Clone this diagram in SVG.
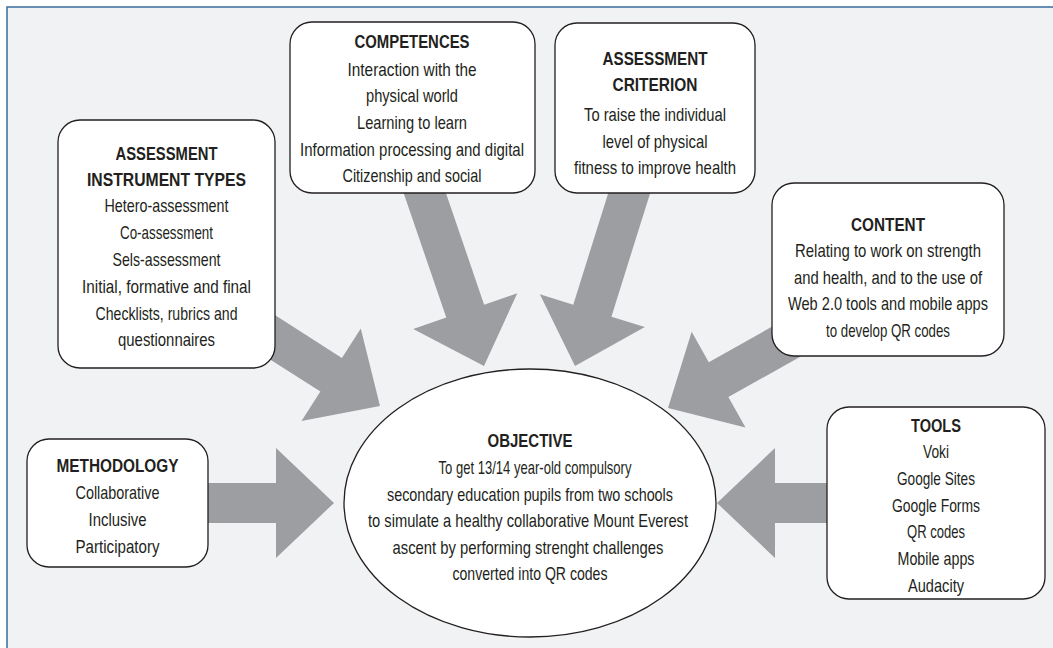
<svg xmlns="http://www.w3.org/2000/svg" width="1053" height="648" viewBox="0 0 1053 648">
<style>
.box{fill:#ffffff;stroke:#231f20;stroke-width:1.3}
.arr{fill:#9d9ea1}
text{font-family:"Liberation Sans Narrow","Liberation Sans",Arial,sans-serif;font-size:19px;fill:#231f20;text-anchor:middle}
.t{font-weight:bold}
</style>
<rect x="0" y="0" width="1053" height="648" fill="#ffffff"/>
<rect x="7" y="7" width="1046" height="641" fill="#f1f2f4"/>
<path d="M7,648 V7 H1053" fill="none" stroke="#3a6b9c" stroke-width="1.5"/>
<g id="connectors">
<polygon class="arr" transform="translate(380,406) rotate(32.6)" points="-145,-20 -58,-20 -58,-55 0,0 -58,55 -58,20 -145,20"/>
<polygon class="arr" transform="translate(484,366) rotate(71.1)" points="-190,-20 -58,-20 -58,-55 0,0 -58,55 -58,20 -190,20"/>
<polygon class="arr" transform="translate(575,366) rotate(107.4)" points="-190,-20 -58,-20 -58,-55 0,0 -58,55 -58,20 -190,20"/>
<polygon class="arr" transform="translate(668,408) rotate(150.7)" points="-145,-20 -58,-20 -58,-55 0,0 -58,55 -58,20 -145,20"/>
<polygon class="arr" transform="translate(334,503)" points="-130,-20 -58,-20 -58,-55 0,0 -58,55 -58,20 -130,20"/>
<polygon class="arr" transform="translate(717,503) rotate(180)" points="-115,-20 -58,-20 -58,-55 0,0 -58,55 -58,20 -115,20"/>
</g>
<g id="instrument-types">
<rect class="box" x="58" y="120" width="217" height="248" rx="22"/>
<text class="t" x="166.5" y="160" textLength="102" lengthAdjust="spacingAndGlyphs">ASSESSMENT</text>
<text class="t" x="166.5" y="186" textLength="159" lengthAdjust="spacingAndGlyphs">INSTRUMENT TYPES</text>
<text x="166.5" y="212" textLength="124" lengthAdjust="spacingAndGlyphs">Hetero-assessment</text>
<text x="166.5" y="239" textLength="93" lengthAdjust="spacingAndGlyphs">Co-assessment</text>
<text x="166.5" y="266" textLength="108" lengthAdjust="spacingAndGlyphs">Sels-assessment</text>
<text x="166.5" y="293" textLength="169" lengthAdjust="spacingAndGlyphs">Initial, formative and final</text>
<text x="166.5" y="320" textLength="142" lengthAdjust="spacingAndGlyphs">Checklists, rubrics and</text>
<text x="166.5" y="346" textLength="97" lengthAdjust="spacingAndGlyphs">questionnaires</text>
</g>
<g id="competences">
<rect class="box" x="290" y="22" width="245" height="171" rx="22"/>
<text class="t" x="412" y="48" textLength="115" lengthAdjust="spacingAndGlyphs">COMPETENCES</text>
<text x="412" y="76" textLength="129" lengthAdjust="spacingAndGlyphs">Interaction with the</text>
<text x="412" y="102" textLength="92" lengthAdjust="spacingAndGlyphs">physical world</text>
<text x="412" y="129" textLength="110" lengthAdjust="spacingAndGlyphs">Learning to learn</text>
<text x="412" y="156" textLength="224" lengthAdjust="spacingAndGlyphs">Information processing and digital</text>
<text x="412" y="182" textLength="139" lengthAdjust="spacingAndGlyphs">Citizenship and social</text>
</g>
<g id="criterion">
<rect class="box" x="555" y="23" width="200" height="170" rx="22"/>
<text class="t" x="655" y="65" textLength="105" lengthAdjust="spacingAndGlyphs">ASSESSMENT</text>
<text class="t" x="655" y="91" textLength="85" lengthAdjust="spacingAndGlyphs">CRITERION</text>
<text x="655" y="121" textLength="142" lengthAdjust="spacingAndGlyphs">To raise the individual</text>
<text x="655" y="148" textLength="105" lengthAdjust="spacingAndGlyphs">level of physical</text>
<text x="655" y="174" textLength="162" lengthAdjust="spacingAndGlyphs">fitness to improve health</text>
</g>
<g id="content">
<rect class="box" x="772" y="183" width="232" height="173" rx="22"/>
<text class="t" x="888" y="231" textLength="74" lengthAdjust="spacingAndGlyphs">CONTENT</text>
<text x="888" y="257" textLength="186" lengthAdjust="spacingAndGlyphs">Relating to work on strength</text>
<text x="888" y="284" textLength="188" lengthAdjust="spacingAndGlyphs">and health, and to the use of</text>
<text x="888" y="310" textLength="200" lengthAdjust="spacingAndGlyphs">Web 2.0 tools and mobile apps</text>
<text x="888" y="337" textLength="124" lengthAdjust="spacingAndGlyphs">to develop QR codes</text>
</g>
<g id="methodology">
<rect class="box" x="27" y="439" width="181" height="128" rx="22"/>
<text class="t" x="117.5" y="472" textLength="122" lengthAdjust="spacingAndGlyphs">METHODOLOGY</text>
<text x="117.5" y="499" textLength="84" lengthAdjust="spacingAndGlyphs">Collaborative</text>
<text x="117.5" y="526" textLength="58" lengthAdjust="spacingAndGlyphs">Inclusive</text>
<text x="117.5" y="553" textLength="84" lengthAdjust="spacingAndGlyphs">Participatory</text>
</g>
<g id="tools">
<rect class="box" x="827" y="407" width="218" height="192" rx="22"/>
<text class="t" x="936" y="432" textLength="50" lengthAdjust="spacingAndGlyphs">TOOLS</text>
<text x="936" y="458" textLength="26" lengthAdjust="spacingAndGlyphs">Voki</text>
<text x="936" y="485" textLength="78" lengthAdjust="spacingAndGlyphs">Google Sites</text>
<text x="936" y="512" textLength="88" lengthAdjust="spacingAndGlyphs">Google Forms</text>
<text x="936" y="538" textLength="58" lengthAdjust="spacingAndGlyphs">QR codes</text>
<text x="936" y="565" textLength="77" lengthAdjust="spacingAndGlyphs">Mobile apps</text>
<text x="936" y="592" textLength="56" lengthAdjust="spacingAndGlyphs">Audacity</text>
</g>
<g id="objective">
<ellipse class="box" cx="530" cy="503" rx="186" ry="134"/>
<text class="t" x="530" y="447" textLength="85" lengthAdjust="spacingAndGlyphs">OBJECTIVE</text>
<text x="535" y="474" textLength="193" lengthAdjust="spacingAndGlyphs">To get 13/14 year-old compulsory</text>
<text x="530" y="501" textLength="286" lengthAdjust="spacingAndGlyphs">secondary education pupils from two schools</text>
<text x="528" y="527" textLength="320" lengthAdjust="spacingAndGlyphs">to simulate a healthy collaborative Mount Everest</text>
<text x="528" y="554" textLength="271" lengthAdjust="spacingAndGlyphs">ascent by performing strenght challenges</text>
<text x="530" y="580" textLength="155" lengthAdjust="spacingAndGlyphs">converted into QR codes</text>
</g>
</svg>
